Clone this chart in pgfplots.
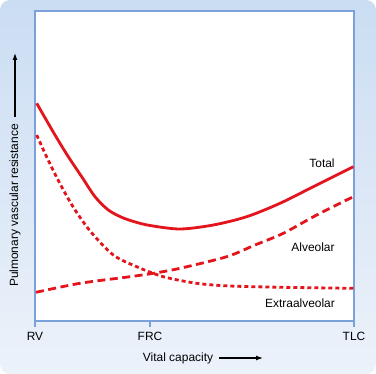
\documentclass[border=0pt]{standalone}
\usepackage{pgfplots}
\pgfplotsset{compat=1.18}
\usepackage{fontspec}
\setmainfont{Liberation Sans}
\usetikzlibrary{arrows.meta}
\definecolor{curvered}{RGB}{228,20,28}
\definecolor{frameblue}{RGB}{124,160,216}
\definecolor{bgtop}{RGB}{203,221,243}
\definecolor{bgbot}{RGB}{236,242,250}
\begin{document}
\begin{tikzpicture}[x=1bp,y=1bp]
\shade[top color=bgtop,bottom color=bgbot,rounded corners=10bp] (-35,-53) rectangle (341,321);
\useasboundingbox (-35,-53) rectangle (341,321);
\begin{axis}[
  at={(0,0)}, anchor=south west,
  scale only axis, width=319bp, height=310bp,
  xmin=0, xmax=319, ymin=0, ymax=310,
  axis background/.style={fill=white},
  axis line style={frameblue, line width=2bp},
  xtick={0,115,319}, xticklabels={RV,FRC,TLC},
  xtick pos=bottom,
  ytick=\empty,
  tick align=outside, major tick length=6bp,
  xtick style={frameblue, line width=1.6bp},
  xticklabel style={font=\fontsize{12}{14}\selectfont, yshift=-2bp},
  clip=false,
]
% Total
\addplot[curvered, line width=2.8bp, smooth] coordinates {
(1.7,217.7) (20,186) (33.3,164.3) (46.7,144.3) (60,124.3) (73.3,111) (86.7,103.7) (99.3,99.3)
(115,95.5) (145,92) (178.3,96) (211.7,104.3) (245,117.7) (278.3,134.3) (318.3,154.3)};
% Alveolar
\addplot[curvered, line width=2.8bp, smooth, dash pattern=on 8bp off 4.5bp] coordinates {
(1,28.7) (45,37.7) (95,44.3) (118.3,47.7) (145,52.7) (191.7,64.3) (220,76) (248.3,87.7) (281.7,106) (318.3,124.3)};
% Extraalveolar
\addplot[curvered, line width=2.8bp, smooth, dash pattern=on 4bp off 3bp] coordinates {
(1.7,186) (12.3,162.7) (25.7,136) (39,112.7) (55.7,89.3) (78.3,66) (101.7,54.3) (128.3,44.3)
(161.7,37.7) (195,35) (248.3,33.7) (318.3,32.7)};
\node[font=\fontsize{12}{14}\selectfont] at (axis cs:287,158) {Total};
\node[font=\fontsize{12}{14}\selectfont] at (axis cs:278,74) {Alveolar};
\node[font=\fontsize{12}{14}\selectfont] at (axis cs:265,18) {Extraalveolar};
\end{axis}
\node[font=\fontsize{12}{14}\selectfont, rotate=90] at (-20,115.5) {Pulmonary vascular resistance};
\draw[line width=1.2bp, -{Latex[length=7bp,width=5bp]}] (-20,204) -- (-20,268);
\node[font=\fontsize{12}{14}\selectfont] at (143,-37) {Vital capacity};
\draw[line width=1.2bp, -{Latex[length=7bp,width=5bp]}] (184,-37) -- (228,-37);
\end{tikzpicture}
\end{document}
